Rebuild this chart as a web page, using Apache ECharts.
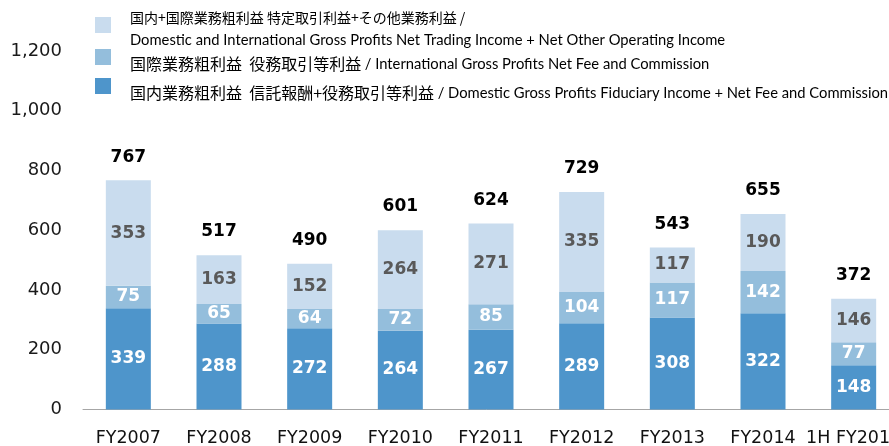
<!DOCTYPE html>
<html>
<head>
<meta charset="utf-8">
<script src="https://cdn.jsdelivr.net/npm/echarts@6/dist/echarts.min.js"></script>
<style>
  html, body { margin: 0; padding: 0; background: #fff; }
  #chart { width: 889px; height: 446px; }
</style>
</head>
<body>
<div id="chart"></div>
<script>
// categories and values (億円)
var categories = ['FY2007', 'FY2008', 'FY2009', 'FY2010', 'FY2011', 'FY2012', 'FY2013', 'FY2014', '1H FY2015'];
var domesticFee = [339, 288, 272, 264, 267, 289, 308, 322, 148];
var intlFee = [75, 65, 64, 72, 85, 104, 117, 142, 77];
var tradingOther = [353, 163, 152, 264, 271, 335, 117, 190, 146];
var totals = [767, 517, 490, 601, 624, 729, 543, 655, 372];

var nameTop = '国内+国際業務粗利益 特定取引利益+その他業務利益';
var nameMid = '国際業務粗利益  役務取引等利益';
var nameBot = '国内業務粗利益  信託報酬+役務取引等利益';

var enTop = 'Domestic and International Gross Profits Net Trading Income + Net Other Operating Income';
var enMid = 'International Gross Profits Net Fee and Commission';
var enBot = 'Domestic Gross Profits Fiduciary Income + Net Fee and Commission';

var jpFont = 'Noto Sans CJK JP';
var enFont = 'Lato';

// legend text: a spacer token sets the gap to the square and the line box,
// the real text sits at the top or bottom of that box
function legendRich(valign, boxH, jpSize) {
    return {
        s: { width: 14, height: boxH },
        j: { fontFamily: jpFont, fontSize: jpSize, color: '#000', lineHeight: 20, verticalAlign: valign },
        e: { fontFamily: enFont, fontSize: 14.75, color: '#000', lineHeight: 20, verticalAlign: valign }
    };
}

function makeLegend(name, top, valign, boxH, jpSize, fmt) {
    return {
        data: [name],
        left: 95,
        top: top,
        padding: 0,
        itemWidth: 16,
        itemHeight: 16,
        icon: 'rect',
        selectedMode: false,
        textStyle: { rich: legendRich(valign, boxH, jpSize) },
        formatter: fmt
    };
}

var chart = echarts.init(document.getElementById('chart'));

var option = {
    animation: false,
    legend: [
        makeLegend(nameTop, 11, 'top', 28, 14, function (n) { return '{s|}{j|' + n + ' /}'; }),
        makeLegend(nameMid, 49, 'bottom', 30, 16, function (n) { return '{s|}{j|' + n + ' }{e|/ ' + enMid + '}'; }),
        makeLegend(nameBot, 78, 'bottom', 30, 16, function (n) { return '{s|}{j|' + n + ' }{e|/ ' + enBot + '}'; })
    ],
    graphic: [{
        type: 'text',
        left: 130,
        top: 33,
        style: { text: enTop, font: '14.75px ' + enFont, fill: '#000' }
    }],
    grid: {
        left: 83,
        right: -10,
        top: 51,
        bottom: 36.5,
        outerBoundsMode: 'none'
    },
    xAxis: {
        type: 'category',
        data: categories,
        axisLine: { lineStyle: { color: '#a6a6a6', width: 1 } },
        axisTick: { inside: true, length: 5, lineStyle: { color: '#a6a6a6' } },
        axisLabel: {
            color: '#111',
            fontFamily: 'DejaVu Sans',
            fontSize: 17.5,
            margin: 20,
            interval: 0,
            hideOverlap: false
        }
    },
    yAxis: {
        type: 'value',
        min: 0,
        max: 1200,
        interval: 200,
        splitLine: { show: false },
        axisLine: { show: false },
        axisTick: { show: false },
        axisLabel: {
            color: '#1a1a1a',
            fontFamily: 'DejaVu Sans',
            fontSize: 18,
            margin: 21,
            formatter: function (v) { return v.toLocaleString('en-US'); }
        }
    },
    series: [
        {
            name: nameBot,
            type: 'bar',
            stack: 'gp',
            barWidth: 45,
            data: domesticFee,
            itemStyle: { color: '#4e95cb' },
            label: {
                show: true, position: 'inside', color: '#fff',
                fontFamily: 'DejaVu Sans', fontWeight: 'bold', fontSize: 17
            }
        },
        {
            name: nameMid,
            type: 'bar',
            stack: 'gp',
            data: intlFee,
            itemStyle: { color: '#94bedc' },
            label: {
                show: true, position: 'inside', color: '#fff',
                fontFamily: 'DejaVu Sans', fontWeight: 'bold', fontSize: 17
            }
        },
        {
            name: nameTop,
            type: 'bar',
            stack: 'gp',
            data: tradingOther,
            itemStyle: { color: '#c9dcee' },
            label: {
                show: true, position: 'inside', color: '#595959',
                fontFamily: 'DejaVu Sans', fontWeight: 'bold', fontSize: 17
            }
        },
        {
            name: 'total',
            type: 'line',
            data: totals,
            symbol: 'circle',
            symbolSize: 1,
            itemStyle: { color: 'rgba(0,0,0,0)' },
            lineStyle: { width: 0, color: 'rgba(0,0,0,0)' },
            label: {
                show: true, position: 'top', distance: 14, color: '#000',
                fontFamily: 'DejaVu Sans', fontWeight: 'bold', fontSize: 17
            },
            z: 5
        }
    ]
};

chart.setOption(option);
</script>
</body>
</html>
